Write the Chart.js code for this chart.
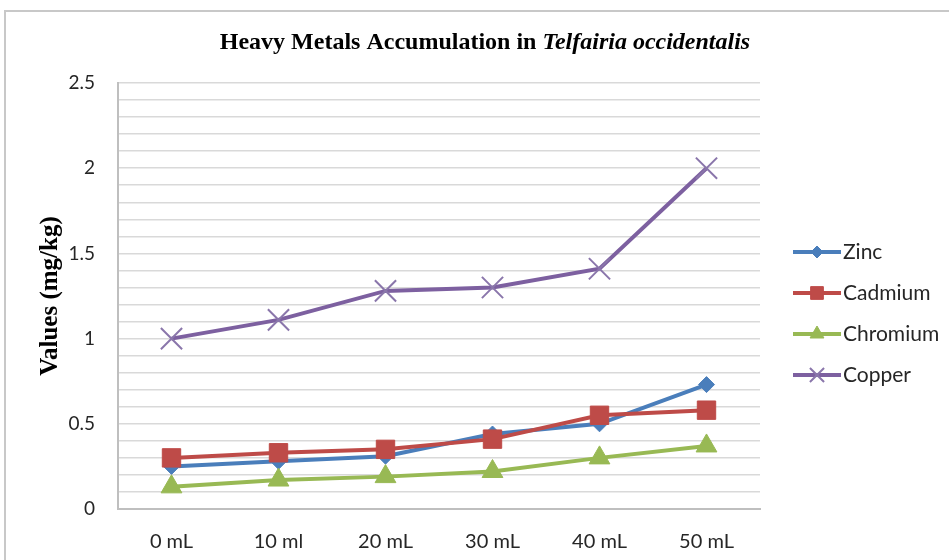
<!DOCTYPE html>
<html>
<head>
<meta charset="utf-8">
<script src="https://cdn.jsdelivr.net/npm/chart.js@4/dist/chart.umd.min.js"></script>
<style>
html, body { margin: 0; padding: 0; background: #fff; }
#frame { position: absolute; left: 4px; top: 10px; width: 970px; height: 580px; border: 2px solid #c8c8c8; box-sizing: border-box; }
#wrap { position: absolute; left: 0; top: 0; width: 949px; height: 560px; }
</style>
</head>
<body>
<div id="frame"></div>
<div id="wrap"><canvas id="chart" width="949" height="560"></canvas></div>
<script>
var doseLabels = ['0 mL', '10 ml', '20 mL', '30 mL', '40 mL', '50 mL'];
var zinc = [0.25, 0.28, 0.31, 0.44, 0.50, 0.73];
var cadmium = [0.30, 0.33, 0.35, 0.41, 0.55, 0.58];
var chromium = [0.13, 0.17, 0.19, 0.22, 0.30, 0.37];
var copper = [1.00, 1.11, 1.28, 1.30, 1.41, 2.00];

var seriesNames = ['Zinc', 'Cadmium', 'Chromium', 'Copper'];
var seriesColors = ['#4a7ebb', '#be4b48', '#98b954', '#7d60a0'];
var legendRadii = [6, 9, 8, 10];

var tickFont = { family: 'Lato', size: 19 };

// draws the two-style title and the legend on the right
var extras = {
    id: 'extras',
    afterDraw: function (chart) {
        var ctx = chart.ctx;
        var area = chart.chartArea;

        ctx.save();
        var part1 = 'Heavy Metals Accumulation in ';
        var part2 = 'Telfairia occidentalis';
        var boldFont = 'bold 24px "Liberation Serif"';
        var italFont = 'bold italic 24px "Liberation Serif"';
        ctx.font = boldFont;
        var w1 = ctx.measureText(part1).width;
        ctx.font = italFont;
        var w2 = ctx.measureText(part2).width;
        var tx = 485 - (w1 + w2) / 2;
        ctx.fillStyle = '#000';
        ctx.textBaseline = 'middle';
        ctx.font = boldFont;
        ctx.fillText(part1, tx, 43);
        ctx.font = italFont;
        ctx.fillText(part2, tx + w1, 43);
        ctx.restore();

        var x0 = area.right + 33;
        var y0 = area.top + 169;
        chart.data.datasets.forEach(function (ds, i) {
            var y = y0 + i * 41;
            ctx.save();
            ctx.strokeStyle = ds.borderColor;
            ctx.lineWidth = 4;
            ctx.beginPath();
            ctx.moveTo(x0, y);
            ctx.lineTo(x0 + 48, y);
            ctx.stroke();
            ctx.fillStyle = ds.pointBackgroundColor;
            ctx.strokeStyle = ds.pointBorderColor;
            ctx.lineWidth = ds.pointBorderWidth;
            Chart.helpers.drawPoint(ctx, {
                pointStyle: ds.pointStyle,
                radius: legendRadii[i],
                borderWidth: ds.pointBorderWidth,
                rotation: 0
            }, x0 + 24, y);
            ctx.fillStyle = '#262626';
            ctx.font = '21px Lato';
            ctx.textBaseline = 'middle';
            ctx.fillText(seriesNames[i], x0 + 50, y);
            ctx.restore();
        });
    }
};

function makeSet(idx, values, style, radius, border) {
    return {
        label: seriesNames[idx],
        data: values,
        borderColor: seriesColors[idx],
        backgroundColor: seriesColors[idx],
        pointBackgroundColor: seriesColors[idx],
        pointBorderColor: idx === 3 ? '#8a76ab' : seriesColors[idx],
        pointBorderWidth: border,
        pointStyle: style,
        pointRadius: radius,
        borderWidth: 4,
        tension: 0,
        order: 4 - idx
    };
}

new Chart(document.getElementById('chart'), {
    type: 'line',
    data: {
        labels: doseLabels,
        datasets: [
            makeSet(0, zinc, 'rectRot', 8, 1),
            makeSet(1, cadmium, 'rect', 13, 1),
            makeSet(2, chromium, 'triangle', 12, 1),
            makeSet(3, copper, 'crossRot', 15, 2)
        ]
    },
    options: {
        responsive: false,
        animation: false,
        layout: { padding: { left: 34, right: 189, top: 83, bottom: 0 } },
        plugins: {
            legend: { display: false },
            title: { display: false },
            tooltip: { enabled: false }
        },
        scales: {
            x: {
                offset: true,
                grid: { display: false, drawTicks: false },
                border: { color: '#bfbfbf', width: 2 },
                ticks: { font: { family: 'Lato', size: 20 }, color: '#262626', padding: 21 },
                afterFit: function (scale) { scale.height = 51; }
            },
            y: {
                min: 0,
                max: 2.5,
                grid: { color: '#d9d9d9', lineWidth: 1.5, drawTicks: false },
                border: { color: '#bfbfbf', width: 2 },
                ticks: {
                    stepSize: 0.1,
                    autoSkip: false,
                    padding: 23,
                    font: tickFont,
                    color: '#262626',
                    callback: function (v) {
                        if (Math.abs(v * 2 - Math.round(v * 2)) < 1e-6) {
                            return String(Math.round(v * 10) / 10);
                        }
                        return '';
                    }
                },
                title: {
                    display: true,
                    text: 'Values (mg/kg)',
                    font: { family: 'Liberation Serif', weight: 'bold', size: 25 },
                    color: '#000',
                    padding: { top: 2, bottom: 2 }
                },
                afterFit: function (scale) { scale.width = 84; }
            }
        }
    },
    plugins: [extras]
});
</script>
</body>
</html>
